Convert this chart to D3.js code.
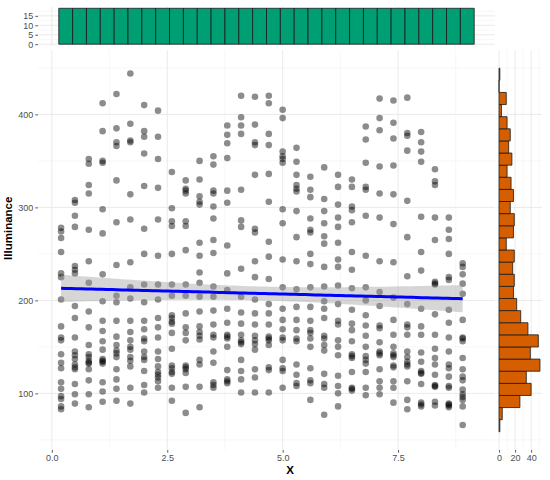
<!DOCTYPE html>
<html>
<head>
<meta charset="utf-8">
<script src="https://cdn.jsdelivr.net/npm/d3@7"></script>
<style>
  body { margin: 0; background: #fff; }
  svg { font-family: "Liberation Sans", Arial, sans-serif; }
  .axis text { fill: #4d4d4d; font-size: 9px; }
  .axis line { stroke: #333; stroke-width: 0.8; }
  .axis .domain { display: none; }
  .title { font-weight: bold; font-size: 11.5px; fill: #000; }
</style>
</head>
<body>
<div class="container"></div>
<script>
// x positions of the measuring columns
const xPositions = [0.2, 0.5, 0.8, 1.1, 1.4, 1.7, 2.0, 2.3, 2.6, 2.9,
                    3.2, 3.5, 3.8, 4.1, 4.4, 4.7, 5.0, 5.3, 5.6, 5.9,
                    6.2, 6.5, 6.8, 7.1, 7.4, 7.7, 8.0, 8.3, 8.6, 8.9];

// illuminance readings, one list per x position
const illuminance = [
  [278, 274, 267, 252, 229, 225, 201, 172, 160, 157, 142, 133, 127, 112, 105, 97, 94, 86, 83],
  [308, 305, 291, 279, 237, 233, 229, 194, 181, 160, 145, 141, 137, 131, 128, 126, 110, 99, 89],
  [352, 347, 324, 315, 276, 242, 219, 188, 171, 152, 142, 139, 135, 133, 132, 126, 114, 99, 85],
  [412, 382, 350, 348, 298, 272, 228, 199, 178, 167, 156, 147, 137, 135, 134, 132, 112, 102, 91],
  [422, 385, 370, 366, 329, 284, 238, 205, 198, 178, 161, 152, 146, 143, 139, 126, 115, 105, 92],
  [444, 390, 372, 370, 314, 287, 241, 214, 202, 178, 166, 157, 150, 147, 139, 135, 129, 106, 89],
  [410, 382, 376, 358, 323, 277, 250, 217, 198, 178, 169, 159, 156, 145, 139, 136, 124, 109, 101],
  [404, 376, 352, 321, 287, 248, 217, 201, 181, 171, 160, 145, 137, 129, 123, 120, 117, 113, 106],
  [338, 299, 285, 280, 250, 217, 205, 184, 181, 177, 175, 165, 148, 130, 127, 123, 121, 106, 92],
  [329, 320, 318, 315, 285, 280, 254, 217, 205, 186, 171, 165, 157, 130, 128, 126, 122, 107, 79],
  [350, 330, 312, 306, 303, 262, 248, 230, 219, 204, 188, 172, 166, 162, 158, 136, 131, 107, 85],
  [355, 346, 318, 315, 301, 288, 265, 251, 215, 204, 189, 174, 163, 160, 145, 133, 112, 109, 106],
  [388, 378, 369, 353, 318, 305, 259, 229, 211, 191, 176, 163, 161, 159, 150, 125, 115, 113, 111],
  [420, 397, 388, 379, 319, 286, 279, 234, 204, 187, 175, 163, 157, 155, 153, 136, 124, 115, 101],
  [419, 389, 370, 367, 335, 277, 273, 242, 225, 201, 186, 174, 162, 157, 153, 147, 126, 117, 101],
  [420, 412, 379, 367, 336, 306, 263, 247, 223, 196, 186, 174, 161, 159, 157, 152, 128, 125, 101],
  [405, 396, 360, 355, 352, 348, 298, 283, 244, 214, 191, 179, 169, 160, 157, 136, 127, 124, 106],
  [364, 349, 335, 324, 320, 317, 296, 268, 242, 212, 193, 179, 168, 159, 156, 131, 120, 111, 108],
  [333, 319, 311, 288, 276, 273, 250, 239, 214, 193, 178, 168, 165, 159, 150, 127, 114, 111, 93],
  [343, 309, 296, 283, 269, 261, 236, 215, 199, 191, 181, 162, 159, 152, 146, 121, 110, 106, 77],
  [335, 322, 303, 289, 279, 262, 244, 236, 216, 196, 178, 174, 157, 150, 141, 119, 108, 100, 86],
  [330, 322, 301, 297, 284, 252, 233, 213, 190, 175, 168, 156, 142, 140, 138, 123, 106, 105, 103],
  [387, 373, 348, 322, 319, 291, 248, 214, 200, 184, 173, 162, 150, 140, 136, 132, 123, 106, 98],
  [417, 396, 383, 344, 315, 289, 242, 209, 194, 173, 170, 155, 145, 143, 141, 126, 113, 106, 99],
  [415, 391, 374, 345, 314, 282, 241, 203, 179, 163, 150, 143, 141, 139, 130, 128, 113, 106, 90],
  [418, 380, 377, 361, 307, 268, 226, 196, 174, 171, 163, 145, 139, 134, 131, 129, 113, 93, 83],
  [381, 370, 360, 349, 290, 252, 232, 191, 172, 163, 144, 134, 124, 122, 121, 110, 90, 88, 86],
  [341, 328, 324, 289, 265, 220, 218, 217, 185, 163, 148, 138, 131, 120, 109, 108, 107, 91, 87],
  [289, 276, 266, 250, 225, 222, 190, 176, 160, 145, 131, 127, 118, 108, 106, 89, 88, 87, 85],
  [240, 236, 228, 218, 207, 179, 160, 159, 156, 138, 126, 118, 114, 104, 99, 96, 93, 86, 66]
];

const xTicks = [0, 2.5, 5, 7.5];
const xMinor = [1.25, 3.75, 6.25, 8.75];
const yTicks = [100, 200, 300, 400];
const yMinor = [50, 150, 250, 350, 450];
const topTicks = [0, 5, 10, 15];
const topMinor = [2.5, 7.5, 12.5, 17.5];
const sideTicks = [0, 20, 40];
const sideMinor = [10, 30, 50];

const w = 550;
const h = 480;
const main = {left: 38, right: 495, top: 50, bottom: 450};
const topBand = {top: 6.5, bottom: 46};
const sideBand = {left: 497, right: 542};

const data = [];
xPositions.forEach((x, i) => illuminance[i].forEach(v => data.push({x: x, y: v})));

// ggplot style binning: 30 bins, boundary at half a bin width
function ggBins(values, bins) {
  const [lo, hi] = d3.extent(values);
  const width = (hi - lo) / (bins - 1);
  const boundary = width / 2;
  const origin = boundary + Math.floor((lo - boundary) / width) * width;
  const edges = [];
  for (let k = 0; origin + k * width <= hi + width * (1 - 1e-8); k++) edges.push(origin + k * width);
  const out = edges.slice(0, -1).map((e, i) => ({x0: e, x1: edges[i + 1], n: 0}));
  values.forEach(v => {
    const i = Math.min(out.length - 1, Math.max(0, Math.floor((v - origin) / width)));
    out[i].n++;
  });
  return out;
}

const xBins = ggBins(data.map(d => d.x), 30);
const yBins = ggBins(data.map(d => d.y), 30);

function expand(lo, hi) {
  const pad = (hi - lo) * 0.05;
  return [lo - pad, hi + pad];
}

const x = d3.scaleLinear()
    .domain(expand(xBins[0].x0, xBins[xBins.length - 1].x1))
    .range([main.left, main.right]);
const y = d3.scaleLinear()
    .domain(expand(yBins[0].x0, yBins[yBins.length - 1].x1))
    .range([main.bottom, main.top]);
const topMax = d3.max(xBins, d => d.n);
const topY = d3.scaleLinear()
    .domain([-0.05 * topMax, 1.05 * topMax])
    .range([topBand.bottom, topBand.top]);
const sideMax = d3.max(yBins, d => d.n);
const sideX = d3.scaleLinear()
    .domain([-0.05 * sideMax, 1.05 * sideMax])
    .range([sideBand.left, sideBand.right]);

const svg = d3.select('.container').append('svg')
    .attr('width', w)
    .attr('height', h);

// grid lines
function vGrid(scale, values, y0, y1, major) {
  svg.append('g').selectAll('line')
    .data(values).enter().append('line')
      .attr('x1', d => scale(d)).attr('x2', d => scale(d))
      .attr('y1', y0).attr('y2', y1)
      .attr('stroke', major ? '#e8e8e8' : '#f2f2f2')
      .attr('stroke-width', major ? 0.9 : 0.6);
}
function hGrid(scale, values, x0, x1, major) {
  svg.append('g').selectAll('line')
    .data(values).enter().append('line')
      .attr('y1', d => scale(d)).attr('y2', d => scale(d))
      .attr('x1', x0).attr('x2', x1)
      .attr('stroke', major ? '#e8e8e8' : '#f2f2f2')
      .attr('stroke-width', major ? 0.9 : 0.6);
}
vGrid(x, xMinor, main.top, main.bottom, false);
hGrid(y, yMinor, main.left, main.right, false);
vGrid(x, xTicks, main.top, main.bottom, true);
hGrid(y, yTicks, main.left, main.right, true);

vGrid(x, xMinor, topBand.top, topBand.bottom, false);
hGrid(topY, topMinor, main.left, main.right, false);
vGrid(x, xTicks, topBand.top, topBand.bottom, true);
hGrid(topY, topTicks, main.left, main.right, true);

vGrid(sideX, sideMinor, main.top, main.bottom, false);
hGrid(y, yMinor, sideBand.left, sideBand.right, false);
vGrid(sideX, sideTicks, main.top, main.bottom, true);
hGrid(y, yTicks, sideBand.left, sideBand.right, true);

// points
svg.append('g').selectAll('circle')
  .data(data).enter().append('circle')
    .attr('cx', d => x(d.x))
    .attr('cy', d => y(d.y))
    .attr('r', 3.3)
    .attr('fill', '#000')
    .attr('fill-opacity', 0.45);

// linear fit with 95% band
const n = data.length;
const mx = d3.mean(data, d => d.x);
const my = d3.mean(data, d => d.y);
const sxx = d3.sum(data, d => (d.x - mx) ** 2);
const sxy = d3.sum(data, d => (d.x - mx) * (d.y - my));
const slope = sxy / sxx;
const intercept = my - slope * mx;
const s = Math.sqrt(d3.sum(data, d => (d.y - intercept - slope * d.x) ** 2) / (n - 2));
const tq = 1.964;
const [xmin, xmax] = d3.extent(data, d => d.x);
const fit = d3.range(80).map(i => {
  const xv = xmin + (xmax - xmin) * i / 79;
  const yv = intercept + slope * xv;
  const se = s * Math.sqrt(1 / n + (xv - mx) ** 2 / sxx);
  return {x: xv, y: yv, lo: yv - tq * se, hi: yv + tq * se};
});

svg.append('path')
  .datum(fit)
  .attr('d', d3.area().x(d => x(d.x)).y0(d => y(d.lo)).y1(d => y(d.hi)))
  .attr('fill', '#999999')
  .attr('fill-opacity', 0.4);
svg.append('path')
  .datum(fit)
  .attr('d', d3.line().x(d => x(d.x)).y(d => y(d.y)))
  .attr('fill', 'none')
  .attr('stroke', '#0000ff')
  .attr('stroke-width', 3);

// top histogram
svg.append('g').selectAll('path')
  .data(xBins).enter().append('path')
    .attr('d', d => `M${x(d.x0)},${topY(0)}V${topY(d.n)}H${x(d.x1)}V${topY(0)}Z`)
    .attr('fill', '#009E73')
    .attr('stroke', '#1a1a1a')
    .attr('stroke-width', 0.8);

// side histogram
svg.append('g').selectAll('path')
  .data(yBins).enter().append('path')
    .attr('d', d => `M${sideX(0)},${y(d.x0)}H${sideX(d.n)}V${y(d.x1)}H${sideX(0)}Z`)
    .attr('fill', '#D55E00')
    .attr('stroke', '#1a1a1a')
    .attr('stroke-width', 0.8);

// axes
svg.append('g')
  .classed('axis', true)
  .attr('transform', `translate(0, ${main.bottom})`)
  .call(d3.axisBottom(x).tickValues(xTicks).tickFormat(d3.format('.1f')).tickSize(2.7).tickPadding(2));
svg.append('g')
  .classed('axis', true)
  .attr('transform', `translate(${main.left}, 0)`)
  .call(d3.axisLeft(y).tickValues(yTicks).tickSize(2.7).tickPadding(2));
svg.append('g')
  .classed('axis', true)
  .attr('transform', `translate(${main.left}, 0)`)
  .call(d3.axisLeft(topY).tickValues(topTicks).tickSize(2.7).tickPadding(2));
svg.append('g')
  .classed('axis', true)
  .attr('transform', `translate(0, ${main.bottom})`)
  .call(d3.axisBottom(sideX).tickValues(sideTicks).tickSize(2.7).tickPadding(2));

svg.append('text')
  .classed('title', true)
  .attr('x', (main.left + sideBand.right) / 2)
  .attr('y', 474)
  .attr('text-anchor', 'middle')
  .text('X');

svg.append('text')
  .classed('title', true)
  .attr('transform', `translate(12, ${(topBand.top + main.bottom) / 2}) rotate(-90)`)
  .attr('text-anchor', 'middle')
  .text('Illuminance');
</script>
</body>
</html>
